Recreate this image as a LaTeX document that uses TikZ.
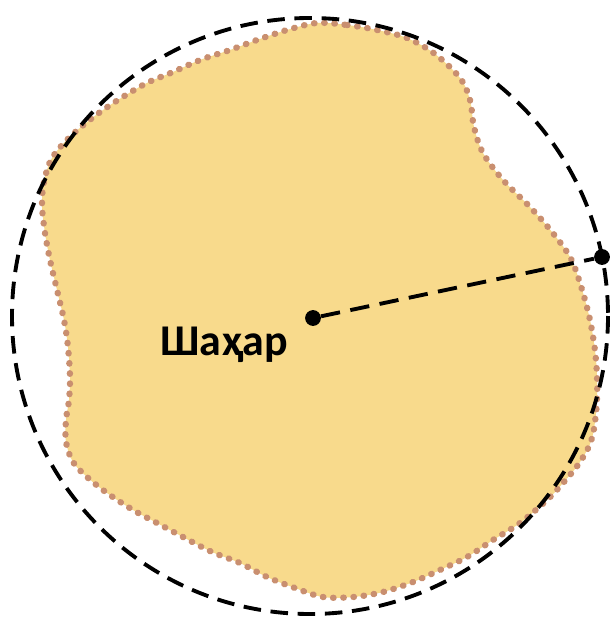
\documentclass[tikz,border=0pt]{standalone}
\usepackage{fontspec}
\setmainfont{Carlito}
\begin{document}
\begin{tikzpicture}[x=0.02cm,y=-0.02cm,
  blobfillst/.style={fill=blobfill},
  blobline/.style={draw=blobdot,line width=3.6pt,line cap=round,dash pattern=on 0.3pt off 5.5pt},
  bigcircle/.style={draw=black,line width=2.2pt,dash pattern=on 10pt off 5.5pt},
  radline/.style={draw=black,line width=2.2pt,dash pattern=on 11pt off 6pt},
  dotnode/.style={circle,fill=black,inner sep=0pt,minimum size=9pt},
  label/.style={font=\bfseries\fontsize{25}{28}\selectfont,inner sep=0pt}]
\definecolor{blobfill}{HTML}{F8DA8C}
\definecolor{blobdot}{HTML}{C98F70}
\useasboundingbox (0,0) rectangle (613,618);
\fill[white] (0,0) rectangle (613,618);
\def\blobpath{plot[smooth cycle,tension=0.55] coordinates {
 (317,23) (347,25) (377,30) (407,38) (435,54) (460,78) (470,100) (474,127)
 (483,153) (503,180) (530,207) (552,232) (570,257) (580,283) (590,320)
 (596,360) (597,400) (592,438) (580,462) (563,483) (547,500) (520,523)
 (493,540) (467,557) (440,570) (413,582) (383,592) (353,597) (323,597)
 (295,588) (267,577) (240,563) (212,552) (183,537) (157,523) (133,510)
 (107,493) (87,477) (73,462) (66,442) (66,420) (69,400) (70,377) (68,347)
 (64,320) (57,290) (50,260) (45,233) (42,205) (44,182) (52,158) (72,135)
 (103,110) (143,85) (173,72) (200,60) (230,50) (257,40) (287,30)}}
% territory
\path[blobfillst] \blobpath;
\path[blobline] \blobpath;
% circle
\draw[bigcircle] (310,316) circle[radius=298];
% center, edge point, label
\node[dotnode] (c) at (313,318) {};
\node[dotnode] (e) at (602,257) {};
\node[label,anchor=base] (t) at (224,355) {Шаҳар};
\draw[radline] (c) -- (e);
\end{tikzpicture}
\end{document}
